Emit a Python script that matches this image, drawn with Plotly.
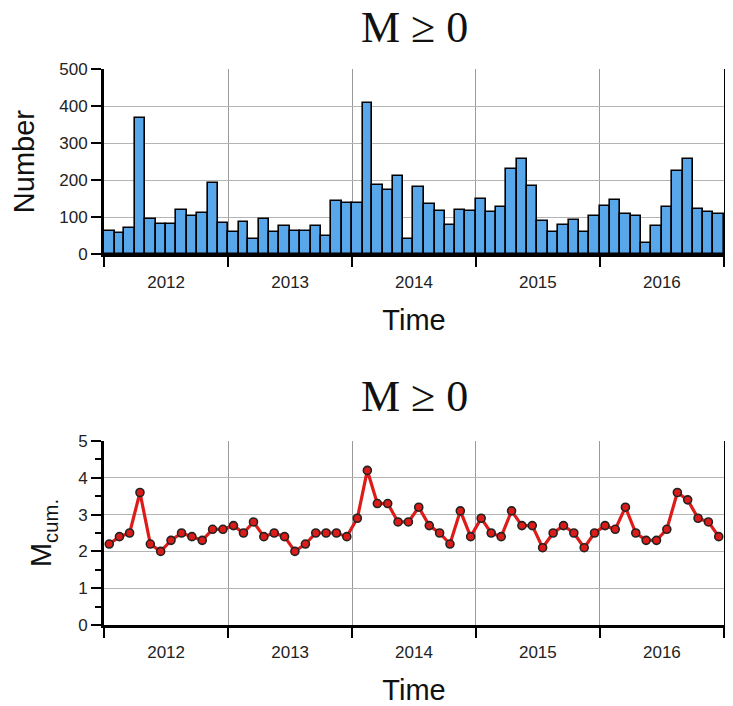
import plotly.graph_objects as go
import pandas as pd

# ---- data ----
years = [2012, 2013, 2014, 2015, 2016]
month_starts = pd.date_range("2012-01-01", periods=60, freq="MS")
months = [d.strftime("%Y-%m-%d") for d in month_starts]
month_ms = [int(d.days_in_month) * 86400000 for d in month_starts]

counts = [62, 58, 70, 367, 95, 82, 82, 119, 103, 112, 191, 85,
          59, 88, 40, 95, 59, 77, 63, 63, 76, 48, 143, 137,
          138, 409, 186, 174, 210, 40, 180, 136, 117, 80, 120, 117,
          149, 115, 128, 230, 256, 183, 90, 61, 79, 91, 61, 102,
          131, 147, 109, 103, 29, 76, 128, 224, 258, 123, 113, 109]

mcum = [2.2, 2.4, 2.5, 3.6, 2.2, 2.0, 2.3, 2.5, 2.4, 2.3, 2.6, 2.6,
        2.7, 2.5, 2.8, 2.4, 2.5, 2.4, 2.0, 2.2, 2.5, 2.5, 2.5, 2.4,
        2.9, 4.2, 3.3, 3.3, 2.8, 2.8, 3.2, 2.7, 2.5, 2.2, 3.1, 2.4,
        2.9, 2.5, 2.4, 3.1, 2.7, 2.7, 2.1, 2.5, 2.7, 2.5, 2.1, 2.5,
        2.7, 2.6, 3.2, 2.5, 2.3, 2.3, 2.6, 3.6, 3.4, 2.9, 2.8, 2.4]

title_text = "M \u2265 0"

# ---- figure ----
fig = go.Figure()

fig.add_trace(go.Bar(
    x=months, y=counts, width=month_ms,
    xperiod="M1", xperiodalignment="middle",
    marker=dict(color="#58a7ea", line=dict(color="black", width=1.6)),
    xaxis="x", yaxis="y", showlegend=False,
))

fig.add_trace(go.Scatter(
    x=months, y=mcum, mode="lines+markers",
    xperiod="M1", xperiodalignment="middle",
    line=dict(color="#dd1c1a", width=3.2),
    marker=dict(color="#dd1c1a", size=8, line=dict(color="#222", width=1.6)),
    xaxis="x2", yaxis="y2", showlegend=False, cliponaxis=False,
))

sans = "Liberation Sans, Arial, sans-serif"
tickfont = dict(family=sans, size=17, color="#222")
titlefont = dict(family=sans, size=29, color="#111")

xcommon = dict(
    type="date", range=["2012-01-01", "2017-01-01"],
    tick0="2012-01-01", dtick="M12", tickformat="%Y", ticklabelmode="period",
    ticks="outside", ticklen=10, tickwidth=1.5, tickcolor="black",
    showgrid=True, gridcolor="#9a9a9a", gridwidth=1,
    showline=True, linecolor="black", linewidth=3,
    tickfont=tickfont, ticklabelstandoff=0, automargin=False,
    zeroline=False,
)

ycommon = dict(
    ticks="outside", ticklen=10, tickwidth=1.5, tickcolor="black",
    showgrid=True, gridcolor="#b4b4b4", gridwidth=1,
    showline=True, linecolor="black", linewidth=3, mirror="ticks",
    tickfont=tickfont, zeroline=False, automargin=False,
)

# the page body adds an 8px offset, so the figure is 8px smaller on each axis
fig.update_layout(
    width=725, height=698,
    margin=dict(l=96, r=9, t=61, b=81),
    paper_bgcolor="white", plot_bgcolor="white",
    bargap=0,
    xaxis=dict(**xcommon, anchor="y",
               title=dict(text="Time", font=titlefont, standoff=20)),
    yaxis=dict(**ycommon, domain=[0.667, 1.0], range=[0, 500], dtick=100,
               title=dict(text="Number", font=titlefont, standoff=18)),
    xaxis2=dict(**xcommon, anchor="y2",
                title=dict(text="Time", font=titlefont, standoff=20)),
    yaxis2=dict(**ycommon, domain=[0.0, 0.331], range=[0, 5], dtick=1,
                minor=dict(dtick=0.5, ticks="outside", ticklen=6,
                           tickcolor="black", tickwidth=1.5, showgrid=False),
                title=dict(text="M<sub>cum.</sub>", font=titlefont, standoff=18)),
    annotations=[
        dict(text=title_text, xref="paper", yref="paper", x=0.5, y=1.074,
             xanchor="center", yanchor="middle", showarrow=False,
             font=dict(family="Liberation Serif, Times New Roman, serif", size=44, color="#111")),
        dict(text=title_text, xref="paper", yref="paper", x=0.5, y=0.411,
             xanchor="center", yanchor="middle", showarrow=False,
             font=dict(family="Liberation Serif, Times New Roman, serif", size=44, color="#111")),
    ],
)

fig.write_html("out.html")
